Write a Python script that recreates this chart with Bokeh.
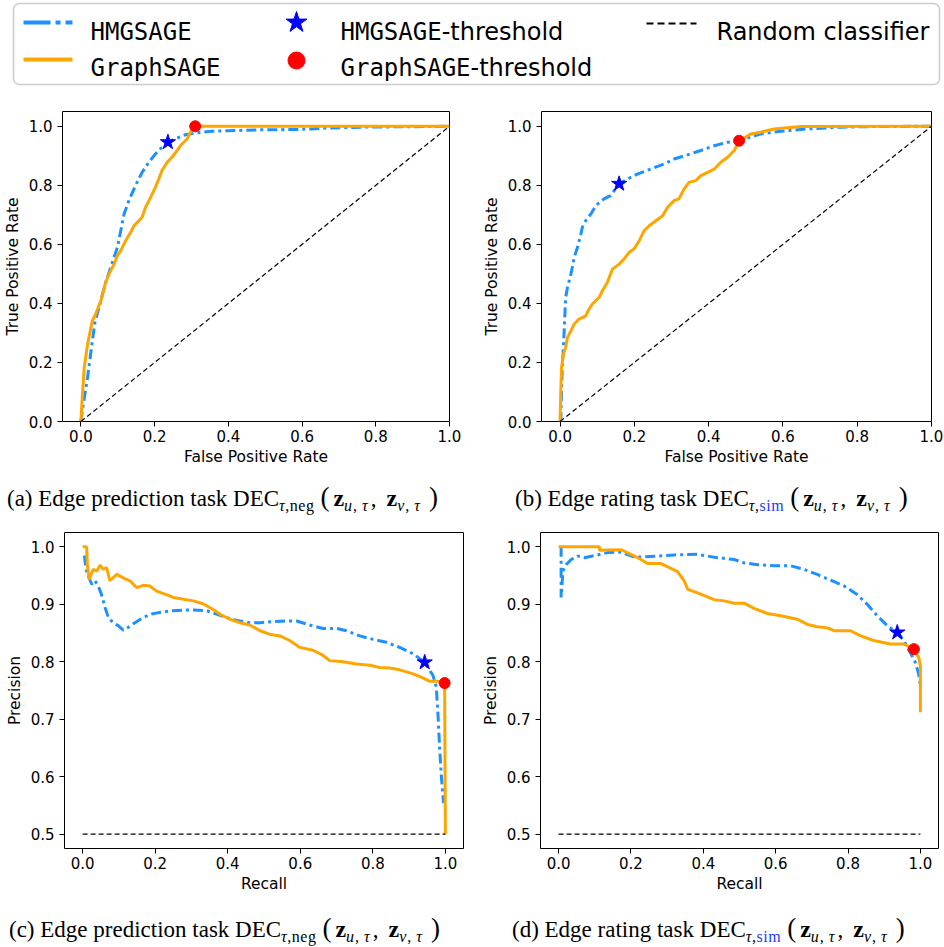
from bokeh.plotting import figure
from bokeh.layouts import column, row
from bokeh.models import Div, FixedTicker, PrintfTickFormatter, Range1d
from bokeh.embed import file_html
from bokeh.resources import INLINE
from bokeh.core.properties import value

# ---------------- data ----------------
series_names = ["HMGSAGE", "GraphSAGE", "Random classifier"]
threshold_suffix = "-threshold"

# (a) ROC, edge prediction
hmg_a_fpr = [0.0, 0.003, 0.018, 0.031, 0.038, 0.049, 0.067, 0.081, 0.090, 0.099, 0.108, 0.117, 0.130, 0.148,
             0.166, 0.184, 0.202, 0.220, 0.236, 0.256, 0.283, 0.310, 0.355, 0.400, 0.490, 0.580, 0.624, 0.669,
             0.759, 0.849, 1.0]
hmg_a_tpr = [0.0, 0.031, 0.149, 0.273, 0.336, 0.386, 0.471, 0.522, 0.556, 0.590, 0.646, 0.703, 0.748, 0.799,
             0.844, 0.878, 0.906, 0.929, 0.946, 0.957, 0.971, 0.977, 0.983, 0.985, 0.988, 0.989, 0.991, 0.994,
             0.997, 0.998, 1.0]
graph_a_fpr = [0.0, 0.003, 0.009, 0.018, 0.031, 0.040, 0.054, 0.067, 0.076, 0.090, 0.099, 0.108, 0.121, 0.135,
               0.144, 0.166, 0.175, 0.189, 0.202, 0.211, 0.220, 0.234, 0.247, 0.261, 0.274, 0.288, 0.297, 0.310, 1.0]
graph_a_tpr = [0.0, 0.070, 0.183, 0.262, 0.341, 0.364, 0.409, 0.471, 0.499, 0.533, 0.562, 0.579, 0.612, 0.641,
               0.663, 0.692, 0.725, 0.759, 0.793, 0.821, 0.850, 0.878, 0.895, 0.918, 0.940, 0.957, 0.980, 1.0, 1.0]
thr_a_hmg = (0.236, 0.946)
thr_a_graph = (0.310, 1.0)

# (b) ROC, edge rating
hmg_b_fpr = [0.0, 0.002, 0.004, 0.006, 0.009, 0.013, 0.015, 0.020, 0.029, 0.033, 0.038, 0.047, 0.056, 0.060,
             0.069, 0.083, 0.096, 0.118, 0.136, 0.159, 0.181, 0.208, 0.244, 0.280, 0.307, 0.343, 0.379, 0.415,
             0.451, 0.482, 0.504, 0.540, 0.594, 0.666, 0.756, 0.846, 1.0]
hmg_b_tpr = [0.0, 0.0, 0.104, 0.183, 0.251, 0.364, 0.420, 0.454, 0.499, 0.522, 0.556, 0.590, 0.635, 0.658,
             0.680, 0.703, 0.731, 0.754, 0.765, 0.805, 0.821, 0.838, 0.855, 0.872, 0.889, 0.903, 0.918, 0.934,
             0.946, 0.951, 0.960, 0.974, 0.983, 0.991, 0.997, 0.999, 1.0]
graph_b_fpr = [0.0, 0.002, 0.004, 0.009, 0.015, 0.020, 0.029, 0.038, 0.051, 0.069, 0.078, 0.087, 0.105, 0.114,
               0.127, 0.141, 0.159, 0.172, 0.186, 0.199, 0.213, 0.226, 0.240, 0.258, 0.276, 0.289, 0.307, 0.320,
               0.334, 0.347, 0.365, 0.379, 0.397, 0.415, 0.433, 0.451, 0.469, 0.482, 0.496, 0.513, 0.540, 0.576,
               0.648, 1.0]
graph_b_tpr = [0.0, 0.104, 0.183, 0.228, 0.251, 0.285, 0.307, 0.330, 0.347, 0.358, 0.381, 0.398, 0.420, 0.443,
               0.471, 0.516, 0.533, 0.550, 0.573, 0.584, 0.612, 0.646, 0.663, 0.680, 0.697, 0.725, 0.748, 0.754,
               0.788, 0.810, 0.816, 0.833, 0.844, 0.855, 0.878, 0.895, 0.918, 0.951, 0.960, 0.974, 0.980, 0.991,
               0.999, 1.0]
thr_b_hmg = (0.159, 0.805)
thr_b_graph = (0.482, 0.951)

# (c) PR, edge prediction
hmg_c_rec = [0.005, 0.009, 0.016, 0.025, 0.034, 0.043, 0.052, 0.062, 0.071, 0.084, 0.098, 0.112, 0.126, 0.144,
             0.167, 0.190, 0.213, 0.250, 0.287, 0.305, 0.342, 0.369, 0.397, 0.424, 0.461, 0.489, 0.525, 0.562,
             0.590, 0.626, 0.663, 0.700, 0.727, 0.764, 0.801, 0.837, 0.874, 0.911, 0.943, 0.966, 0.975, 0.980,
             0.984, 0.989, 0.995]
hmg_c_prec = [0.985, 0.961, 0.949, 0.935, 0.941, 0.932, 0.917, 0.894, 0.877, 0.868, 0.863, 0.855, 0.860, 0.868,
              0.877, 0.883, 0.886, 0.889, 0.890, 0.890, 0.889, 0.883, 0.877, 0.872, 0.868, 0.868, 0.870, 0.871,
              0.871, 0.864, 0.858, 0.858, 0.854, 0.845, 0.839, 0.834, 0.825, 0.814, 0.799, 0.776, 0.756, 0.704,
              0.652, 0.600, 0.554]
graph_c_rec = [0.0, 0.011, 0.013, 0.018, 0.025, 0.029, 0.039, 0.048, 0.057, 0.066, 0.075, 0.094, 0.112, 0.130,
               0.149, 0.167, 0.185, 0.204, 0.231, 0.250, 0.277, 0.305, 0.332, 0.360, 0.378, 0.406, 0.433, 0.461,
               0.489, 0.515, 0.544, 0.571, 0.599, 0.635, 0.663, 0.681, 0.718, 0.755, 0.792, 0.819, 0.847, 0.874,
               0.911, 0.938, 0.957, 0.980, 0.998, 1.0]
graph_c_prec = [1.0, 1.0, 0.969, 0.943, 0.955, 0.961, 0.958, 0.968, 0.961, 0.964, 0.941, 0.952, 0.946, 0.941,
                0.929, 0.933, 0.932, 0.923, 0.917, 0.912, 0.909, 0.906, 0.901, 0.891, 0.883, 0.874, 0.868, 0.864,
                0.854, 0.848, 0.845, 0.837, 0.825, 0.820, 0.811, 0.802, 0.800, 0.796, 0.794, 0.790, 0.789, 0.786,
                0.779, 0.772, 0.766, 0.766, 0.763, 0.5]
thr_c_hmg = (0.943, 0.799)
thr_c_graph = (0.998, 0.763)

# (d) PR, edge rating
hmg_d_rec = [0.007, 0.007, 0.012, 0.021, 0.035, 0.053, 0.072, 0.136, 0.173, 0.210, 0.274, 0.320, 0.384, 0.430,
             0.485, 0.513, 0.550, 0.596, 0.642, 0.678, 0.715, 0.752, 0.789, 0.825, 0.853, 0.881, 0.908, 0.936,
             0.954, 0.972, 0.986, 0.995, 1.0]
hmg_d_prec = [1.0, 0.912, 0.958, 0.969, 0.978, 0.984, 0.981, 0.990, 0.991, 0.982, 0.984, 0.986, 0.987, 0.982,
              0.978, 0.972, 0.969, 0.967, 0.967, 0.961, 0.952, 0.942, 0.932, 0.917, 0.900, 0.880, 0.863, 0.851,
              0.837, 0.816, 0.799, 0.779, 0.759]
graph_d_rec = [0.0, 0.113, 0.113, 0.173, 0.200, 0.228, 0.246, 0.283, 0.306, 0.329, 0.347, 0.357, 0.384, 0.403,
               0.430, 0.458, 0.485, 0.513, 0.540, 0.577, 0.614, 0.660, 0.688, 0.715, 0.743, 0.761, 0.807, 0.835,
               0.871, 0.917, 0.954, 0.982, 0.995, 1.0, 1.0]
graph_d_prec = [1.0, 1.0, 0.994, 0.995, 0.987, 0.978, 0.971, 0.971, 0.964, 0.957, 0.941, 0.926, 0.920, 0.915,
                0.908, 0.906, 0.902, 0.902, 0.893, 0.884, 0.880, 0.874, 0.865, 0.861, 0.859, 0.854, 0.854, 0.845,
                0.837, 0.831, 0.831, 0.822, 0.808, 0.793, 0.712]
thr_d_hmg = (0.936, 0.851)
thr_d_graph = (0.982, 0.822)

# random classifier baselines
roc_random_x = [0.0, 1.0]
roc_random_y = [0.0, 1.0]
pr_random_x = [0.0, 1.0]
pr_random_y = [0.5, 0.5]

roc_ticks = [0.0, 0.2, 0.4, 0.6, 0.8, 1.0]
pr_yticks = [0.5, 0.6, 0.7, 0.8, 0.9, 1.0]

captions = [
    ("a", "Edge prediction task", "neg", False),
    ("b", "Edge rating task", "sim", True),
    ("c", "Edge prediction task", "neg", False),
    ("d", "Edge rating task", "sim", True),
]

# ---------------- style ----------------
BLUE = "#1E90FF"
ORANGE = "#FFA500"
TICK_FONT = "DejaVu Sans"


def panel(w, h, bl, br, bt, bb, xr, yr, xt, yt, xlabel, ylabel):
    p = figure(width=w, height=h, x_range=Range1d(*xr), y_range=Range1d(*yr),
               output_backend="svg", toolbar_location=None,
               min_border_left=bl, min_border_right=br, min_border_top=bt, min_border_bottom=bb)
    p.grid.visible = False
    p.outline_line_color = "black"
    p.outline_line_width = 1
    for ax, ticks, label in ((p.xaxis[0], xt, xlabel), (p.yaxis[0], yt, ylabel)):
        ax.ticker = FixedTicker(ticks=ticks)
        ax.formatter = PrintfTickFormatter(format="%.1f")
        ax.axis_label = label
        ax.axis_line_color = None
        ax.major_tick_in = 0
        ax.major_tick_out = 5
        ax.major_tick_line_color = "black"
        ax.minor_tick_line_color = None
        ax.major_label_text_font = TICK_FONT
        ax.major_label_text_font_size = "15px"
        ax.major_label_text_color = "black"
        ax.axis_label_text_font = TICK_FONT
        ax.axis_label_text_font_size = "15.5px"
        ax.axis_label_text_font_style = "normal"
        ax.axis_label_text_color = "black"
    p.xaxis.major_label_standoff = 3
    p.xaxis.axis_label_standoff = 3
    p.yaxis.major_label_standoff = 5
    p.yaxis.axis_label_standoff = 4
    return p


def draw(p, hx, hy, gx, gy, rx, ry, thr_h, thr_g):
    p.line(hx, hy, line_color=BLUE, line_width=3, line_dash="10 4 3 4")
    p.line(gx, gy, line_color=ORANGE, line_width=3)
    p.line(rx, ry, line_color="black", line_width=1.2, line_dash="5 3")
    p.scatter([thr_h[0]], [thr_h[1]], marker="star", size=16, color="blue")
    p.scatter([thr_g[0]], [thr_g[1]], marker="circle", size=11, color="red")


pa = panel(476, 392, 60, 27, 25, 57, (-0.05, 1.0), (0.0, 1.05), roc_ticks, roc_ticks,
           "False Positive Rate", "True Positive Rate")
draw(pa, hmg_a_fpr, hmg_a_tpr, graph_a_fpr, graph_a_tpr, roc_random_x, roc_random_y, thr_a_hmg, thr_a_graph)

pb = panel(467, 392, 65, 12, 25, 57, (-0.05, 1.0), (0.0, 1.05), roc_ticks, roc_ticks,
           "False Positive Rate", "True Positive Rate")
draw(pb, hmg_b_fpr, hmg_b_tpr, graph_b_fpr, graph_b_tpr, roc_random_x, roc_random_y, thr_b_hmg, thr_b_graph)

pc = panel(476, 375, 64, 13, 7, 52, (-0.05, 1.05), (0.475, 1.025), roc_ticks, pr_yticks,
           "Recall", "Precision")
draw(pc, hmg_c_rec, hmg_c_prec, graph_c_rec, graph_c_prec, pr_random_x, pr_random_y, thr_c_hmg, thr_c_graph)

pd_ = panel(467, 375, 64, 5, 6, 52, (-0.05, 1.05), (0.475, 1.025), roc_ticks, pr_yticks,
            "Recall", "Precision")
draw(pd_, hmg_d_rec, hmg_d_prec, graph_d_rec, graph_d_prec, pr_random_x, pr_random_y, thr_d_hmg, thr_d_graph)

# ---------------- legend ----------------
LEG_FS = 24
MONO_ADV = 0.602 * LEG_FS  # DejaVu Sans Mono advance width

lg = figure(width=943, height=86, x_range=Range1d(0, 943), y_range=Range1d(86, 0),
            output_backend="svg", toolbar_location=None, x_axis_type=None, y_axis_type=None,
            min_border=0, min_border_left=0, min_border_right=0, min_border_top=0, min_border_bottom=0)
lg.grid.visible = False
lg.outline_line_color = None
lg.quad(left=[13], right=[939], top=[3], bottom=[84], fill_color="white",
        line_color="#cccccc", line_width=1.5, border_radius=6)
lg.line([23, 72], [22, 22], line_color=BLUE, line_width=4, line_dash="27 5 5 5")
lg.line([23, 72], [59, 59], line_color=ORANGE, line_width=4)
lg.scatter([296], [22], marker="star", size=22, color="blue")
lg.scatter([296], [60], marker="circle", size=17, color="red")
lg.line([646, 696], [23, 23], line_color="black", line_width=2, line_dash="7 4")
# monospace model names
lg.text(x=[90, 90, 340, 340], y=[31, 67, 31, 67],
        text=[series_names[0], series_names[1], series_names[0], series_names[1]],
        text_font=value("DejaVu Sans Mono"), text_font_size=f"{LEG_FS}px", text_color="black",
        text_baseline="alphabetic", text_align="left")
# "-threshold" suffix and random classifier in regular sans
lg.text(x=[340 + len(series_names[0]) * MONO_ADV, 340 + len(series_names[1]) * MONO_ADV, 716],
        y=[31, 67, 31],
        text=[threshold_suffix, threshold_suffix, series_names[2]],
        text_font=value("DejaVu Sans"), text_font_size=f"{LEG_FS}px", text_color="black",
        text_baseline="alphabetic", text_align="left")


# ---------------- captions ----------------
def caption_div(idx, width, height, pad_top, pad_left):
    letter, task, sub, colored = captions[idx]
    sub_style = "font-size:16px;vertical-align:-5px;line-height:0;letter-spacing:0.5px"
    msub_style = "font-size:16px;vertical-align:-5px;line-height:0;letter-spacing:1px"
    sub_txt = f'<span style="color:#1a3cff">{sub}</span>' if colored else sub
    zb = '<b style="font-size:24px;line-height:0">z</b>'
    html = (
        f'<div style="font-family:\'Liberation Serif\',serif;font-size:23px;line-height:23px;'
        f'padding-top:{pad_top}px;padding-left:{pad_left}px;white-space:nowrap;color:#000">'
        f'({letter}) {task} DEC<sub style="{sub_style}"><i>&tau;</i>,{sub_txt}</sub>'
        f'<span style="font-size:27px;line-height:0;margin-left:6px;margin-right:4px">(</span>'
        f'{zb}<sub style="{msub_style}"><i>u</i>,<span style="margin-left:4px"></span><i>&tau;</i></sub>'
        f'<span style="margin-left:2px;margin-right:10px">,</span>'
        f'{zb}<sub style="{msub_style}"><i>v</i>,<span style="margin-left:4px"></span><i>&tau;</i></sub>'
        f'<span style="font-size:27px;line-height:0;margin-left:8px">)</span>'
        '</div>'
    )
    return Div(text=html, width=width, height=height, margin=(0, 0, 0, 0))


ca = caption_div(0, 476, 47, 9, 7)
cb = caption_div(1, 467, 47, 9, 39)
cc = caption_div(2, 476, 46, 18, 9)
cd = caption_div(3, 467, 46, 18, 36)

layout = column(lg, row(pa, pb), row(ca, cb), row(pc, pd_), row(cc, cd))

open("out.html", "w").write(file_html(layout, INLINE))
